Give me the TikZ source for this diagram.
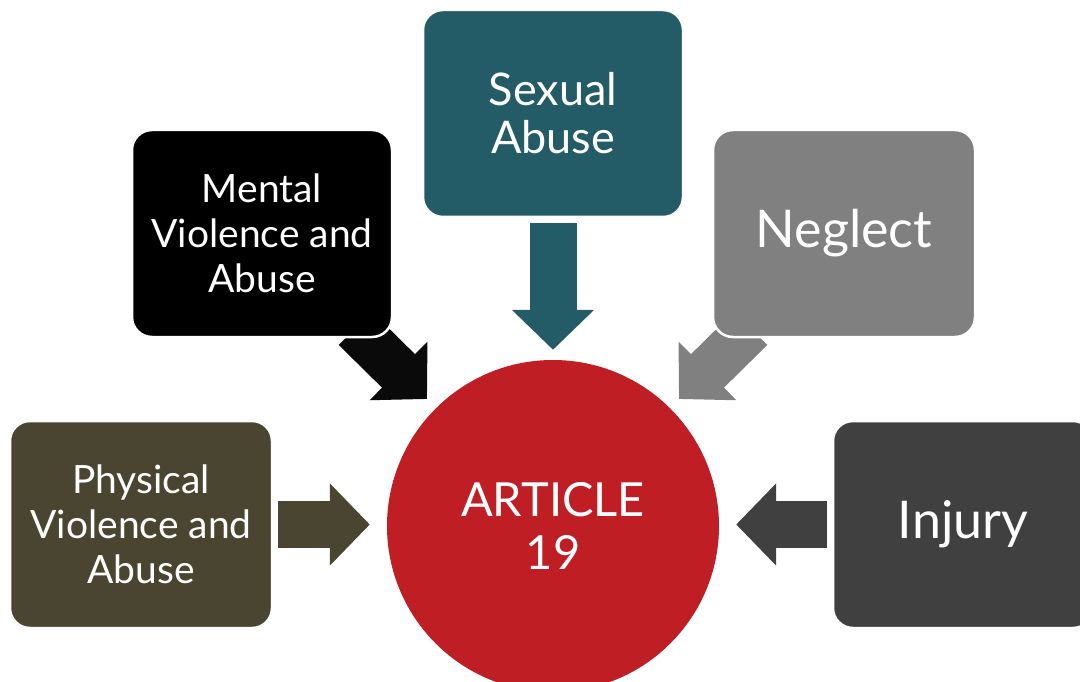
\documentclass[tikz,border=0pt]{standalone}
\usepackage{fontspec}
\setmainfont{Lato}
\usetikzlibrary{arrows.meta,calc,backgrounds}
\definecolor{physcol}{HTML}{4A4530}
\definecolor{mentcol}{HTML}{000000}
\definecolor{sexcol}{HTML}{235B67}
\definecolor{neglcol}{HTML}{808080}
\definecolor{injcol}{HTML}{404040}
\definecolor{artcol}{HTML}{BE1E24}
\tikzset{
  box/.style={rectangle, rounded corners=20pt, draw=white, line width=2.5pt,
    minimum width=260pt, minimum height=207pt, text=white, align=center,
    font=\fontsize{39}{45}\selectfont},
  blockarr/.style={line width=47pt, -{Triangle[length=40pt,width=80pt]}},
}
\begin{document}
\begin{tikzpicture}[x=1pt,y=-1pt]
	\useasboundingbox (0,0) rectangle (1080,682);
%	\draw [help lines] (0,0) grid[step=100] (1080,682);
	\node [box, fill=physcol, minimum width=262pt] (phys) at (141,524.5) {Physical\\Violence and\\Abuse};
	\node [box, fill=mentcol] (ment) at (262,233.5) {Mental\\Violence and\\Abuse};
	\node [box, fill=sexcol, font=\fontsize{45}{48}\selectfont] (sex) at (553,113.5) {Sexual\\Abuse};
	\node [box, fill=neglcol, minimum width=262pt, font=\fontsize{52}{58}\selectfont] (negl) at (844,233.5) {Neglect};
	\node [box, fill=injcol, font=\fontsize{52}{58}\selectfont] (inj) at (963,524.5) {Injury};
	\node [circle, fill=artcol, minimum size=332pt, text=white, align=center,
		font=\fontsize{47}{53}\selectfont] (art) at (553,526) {ARTICLE\\19};
	\coordinate (mtip) at ($(art.center)+(-126,-127)$);
	\coordinate (ntip) at ($(art.center)+(126,-127)$);
	\begin{scope}[on background layer]
		\draw [blockarr, physcol, shorten <=5pt, shorten >=17pt] (phys.east) -- (phys.east -| art.west);
		\draw [blockarr, injcol, shorten <=5pt, shorten >=17pt] (inj.west) -- (inj.west -| art.east);
		\draw [blockarr, sexcol, shorten <=5pt, shorten >=10pt] (sex.south) -- (art.north);
		\draw [blockarr, mentcol!96!white] ($(ment.south east)+(-38,-10)$) -- (mtip);
		\draw [blockarr, neglcol] ($(negl.south west)+(39,-10)$) -- (ntip);
	\end{scope}
\end{tikzpicture}
\end{document}
